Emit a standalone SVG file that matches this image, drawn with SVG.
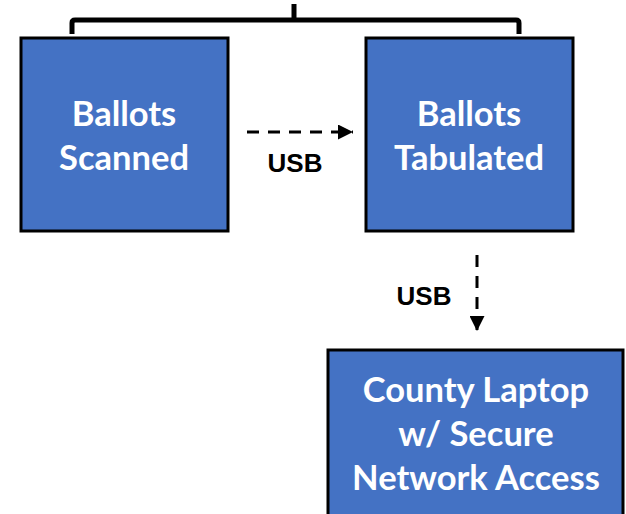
<svg xmlns="http://www.w3.org/2000/svg" width="626" height="514" viewBox="0 0 626 514">
  <style>
    .box { fill: #4472C4; stroke: #000; stroke-width: 3; }
    .label { fill: #fff; font-family: Lato, "Open Sans", sans-serif; font-weight: bold; font-size: 34.5px; text-anchor: middle; }
    .usb { fill: #000; font-family: "Liberation Sans", Arial, sans-serif; font-weight: bold; font-size: 26px; text-anchor: middle; }
    .flow { stroke: #000; stroke-width: 3; fill: none; stroke-dasharray: 12 9; }
  </style>
  <defs>
    <marker id="head" viewBox="0 0 10 10" refX="10" refY="5" markerWidth="5" markerHeight="5" markerUnits="strokeWidth" orient="auto">
      <path d="M0,0 L10,5 L0,10 z" fill="#000"/>
    </marker>
  </defs>
  <rect width="626" height="514" fill="#fff"/>

  <!-- grouping bracket over the two upper steps -->
  <path d="M72,34 V23 Q72,20 75,20 H516 Q519,20 519,23 V34 M294,4 V20" fill="none" stroke="#000" stroke-width="5"/>

  <g id="connectors">
    <line class="flow" x1="247" y1="132" x2="353" y2="132" marker-end="url(#head)"/>
    <text class="usb" x="295" y="172">USB</text>
    <line class="flow" x1="477" y1="255" x2="477" y2="331" marker-end="url(#head)"/>
    <text class="usb" x="424" y="305">USB</text>
  </g>

  <g id="ballots-scanned">
    <rect class="box" x="21" y="38" width="207" height="193"/>
    <text class="label" x="124" y="126">Ballots</text>
    <text class="label" x="124" y="170">Scanned</text>
  </g>

  <g id="ballots-tabulated">
    <rect class="box" x="366" y="38" width="207" height="193"/>
    <text class="label" x="469" y="126">Ballots</text>
    <text class="label" x="469" y="170">Tabulated</text>
  </g>

  <g id="county-laptop">
    <rect class="box" x="328" y="350" width="295" height="170"/>
    <text class="label" x="476" y="402">County Laptop</text>
    <text class="label" x="476" y="446">w/ Secure</text>
    <text class="label" x="476" y="490">Network Access</text>
  </g>
</svg>
